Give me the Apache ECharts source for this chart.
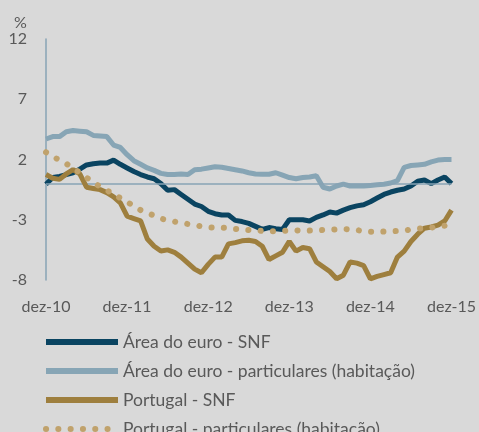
<!DOCTYPE html>
<html>
<head>
<meta charset="utf-8">
<script src="https://cdn.jsdelivr.net/npm/echarts@6/dist/echarts.min.js"></script>
<style>
html,body{margin:0;padding:0;background:#d9d9d9;}
#c{width:479px;height:432px;}
</style>
</head>
<body>
<div id="c"></div>
<script>
const months = ['jan','fev','mar','abr','mai','jun','jul','ago','set','out','nov','dez'];
const categories = [];
categories.push('dez-10');
for (let y = 11; y <= 15; y++) { for (let m = 0; m < 12; m++) categories.push(months[m] + '-' + y); }

const yTicks = [-8, -3, 2, 7, 12];

const aeSNF = [-0.05,0.5,0.6,0.75,0.9,1.2,1.55,1.65,1.7,1.7,1.95,1.6,1.3,1.0,0.75,0.55,0.4,0.0,-0.55,-0.5,-0.9,
  -1.3,-1.7,-1.9,-2.3,-2.5,-2.6,-2.6,-3.05,-3.15,-3.3,-3.55,-3.8,-3.65,-3.75,-3.8,-3.0,-3.0,-3.0,-3.1,-2.8,
  -2.6,-2.35,-2.45,-2.2,-2.0,-1.85,-1.75,-1.5,-1.2,-0.9,-0.7,-0.55,-0.45,-0.2,0.2,0.3,0.0,0.3,0.55,0.0];

const aePart = [3.7,3.9,3.9,4.3,4.4,4.35,4.3,4.0,3.95,3.9,3.2,3.0,2.4,1.9,1.6,1.3,1.1,0.85,0.75,0.75,0.8,
  0.75,1.15,1.2,1.3,1.4,1.35,1.25,1.15,1.05,0.9,0.8,0.78,0.78,0.9,0.7,0.5,0.4,0.5,0.55,0.65,
  -0.3,-0.45,-0.2,-0.05,-0.2,-0.2,-0.2,-0.15,-0.1,-0.05,0.05,0.25,1.35,1.5,1.55,1.6,1.8,1.95,2.0,2.0];

const ptSNF = [0.75,0.45,0.35,0.8,1.15,0.8,-0.3,-0.4,-0.5,-0.75,-1.1,-1.6,-2.7,-2.9,-3.1,-4.6,-5.2,-5.6,-5.5,-5.7,-6.1,
  -6.6,-7.1,-7.4,-6.7,-6.1,-6.1,-5.0,-4.9,-4.75,-4.7,-4.8,-5.2,-6.3,-6.0,-5.7,-4.8,-5.6,-5.3,-5.4,-6.5,
  -6.9,-7.3,-7.9,-7.6,-6.5,-6.6,-6.8,-7.9,-7.7,-7.55,-7.4,-6.1,-5.6,-4.8,-4.2,-3.7,-3.6,-3.45,-3.1,-2.2];

const ptPart = [2.6,2.25,1.95,1.65,1.3,0.9,0.5,0.1,-0.25,-0.55,-0.9,-1.2,-1.5,-1.9,-2.2,-2.45,-2.65,-2.9,-3.05,-3.15,-3.25,
  -3.35,-3.45,-3.55,-3.62,-3.66,-3.66,-3.7,-3.76,-3.8,-3.85,-3.9,-3.92,-3.95,-3.95,-3.92,-3.9,-3.88,-3.9,-3.9,-3.87,
  -3.85,-3.85,-3.8,-3.77,-3.8,-3.85,-3.95,-4.0,-4.0,-3.98,-3.96,-3.93,-3.9,-3.8,-3.75,-3.7,-3.65,-3.57,-3.5,-3.3];

const names = ['Área do euro - SNF','Área do euro - particulares (habitação)','Portugal - SNF','Portugal - particulares (habitação)'];

const FONT = 'Lato';
const TXT = '#595959';
const AX = '#87a3b4';

const chart = echarts.init(document.getElementById('c'));
chart.setOption({
  backgroundColor: '#d9d9d9',
  animation: false,
  title: { text: '%', left: 9, top: 10, textStyle: { fontFamily: FONT, fontSize: 16, fontWeight: 'normal', color: TXT } },
  grid: { left: 46, right: 26, top: 39, bottom: 152 },
  legend: {
    orient: 'vertical', left: 38, top: 328, height: 200,
    itemWidth: 72, itemHeight: 14, itemGap: 11,
    itemStyle: { opacity: 0 },
    lineStyle: { width: 6 },
    textStyle: { fontFamily: FONT, fontSize: 17.5, color: TXT, lineHeight: 16 },
    data: names
  },
  xAxis: {
    type: 'category', data: categories, boundaryGap: false,
    axisLine: { show: false }, axisTick: { show: false },
    axisLabel: { interval: 11, margin: 19, fontFamily: FONT, fontSize: 16, color: TXT }
  },
  yAxis: {
    type: 'value', min: yTicks[0], max: yTicks[yTicks.length - 1], interval: 5,
    splitLine: { show: false },
    axisLine: { show: true, lineStyle: { color: AX, width: 1.5 } },
    axisTick: { show: false },
    axisLabel: { margin: 19, fontFamily: FONT, fontSize: 16, color: TXT }
  },
  series: [
    { name: names[0], type: 'line', data: aeSNF, symbol: 'none', z: 4,
      lineStyle: { color: '#0a4461', width: 5 }, itemStyle: { color: '#0a4461' },
      markLine: { silent: true, symbol: 'none', label: { show: false },
        lineStyle: { color: AX, width: 1.5, type: 'solid' }, data: [{ yAxis: 0 }] } },
    { name: names[1], type: 'line', data: aePart, symbol: 'none', z: 3,
      lineStyle: { color: '#87a5b5', width: 5 }, itemStyle: { color: '#87a5b5' } },
    { name: names[2], type: 'line', data: ptSNF, symbol: 'none', z: 5,
      lineStyle: { color: '#9e7f3e', width: 5 }, itemStyle: { color: '#9e7f3e' } },
    { name: names[3], type: 'line', data: ptPart, symbol: 'none', z: 6,
      lineStyle: { color: '#c0a26c', width: 6, type: [0.1, 12.2], cap: 'round' }, itemStyle: { color: '#c0a26c' } }
  ]
});
</script>
</body>
</html>
